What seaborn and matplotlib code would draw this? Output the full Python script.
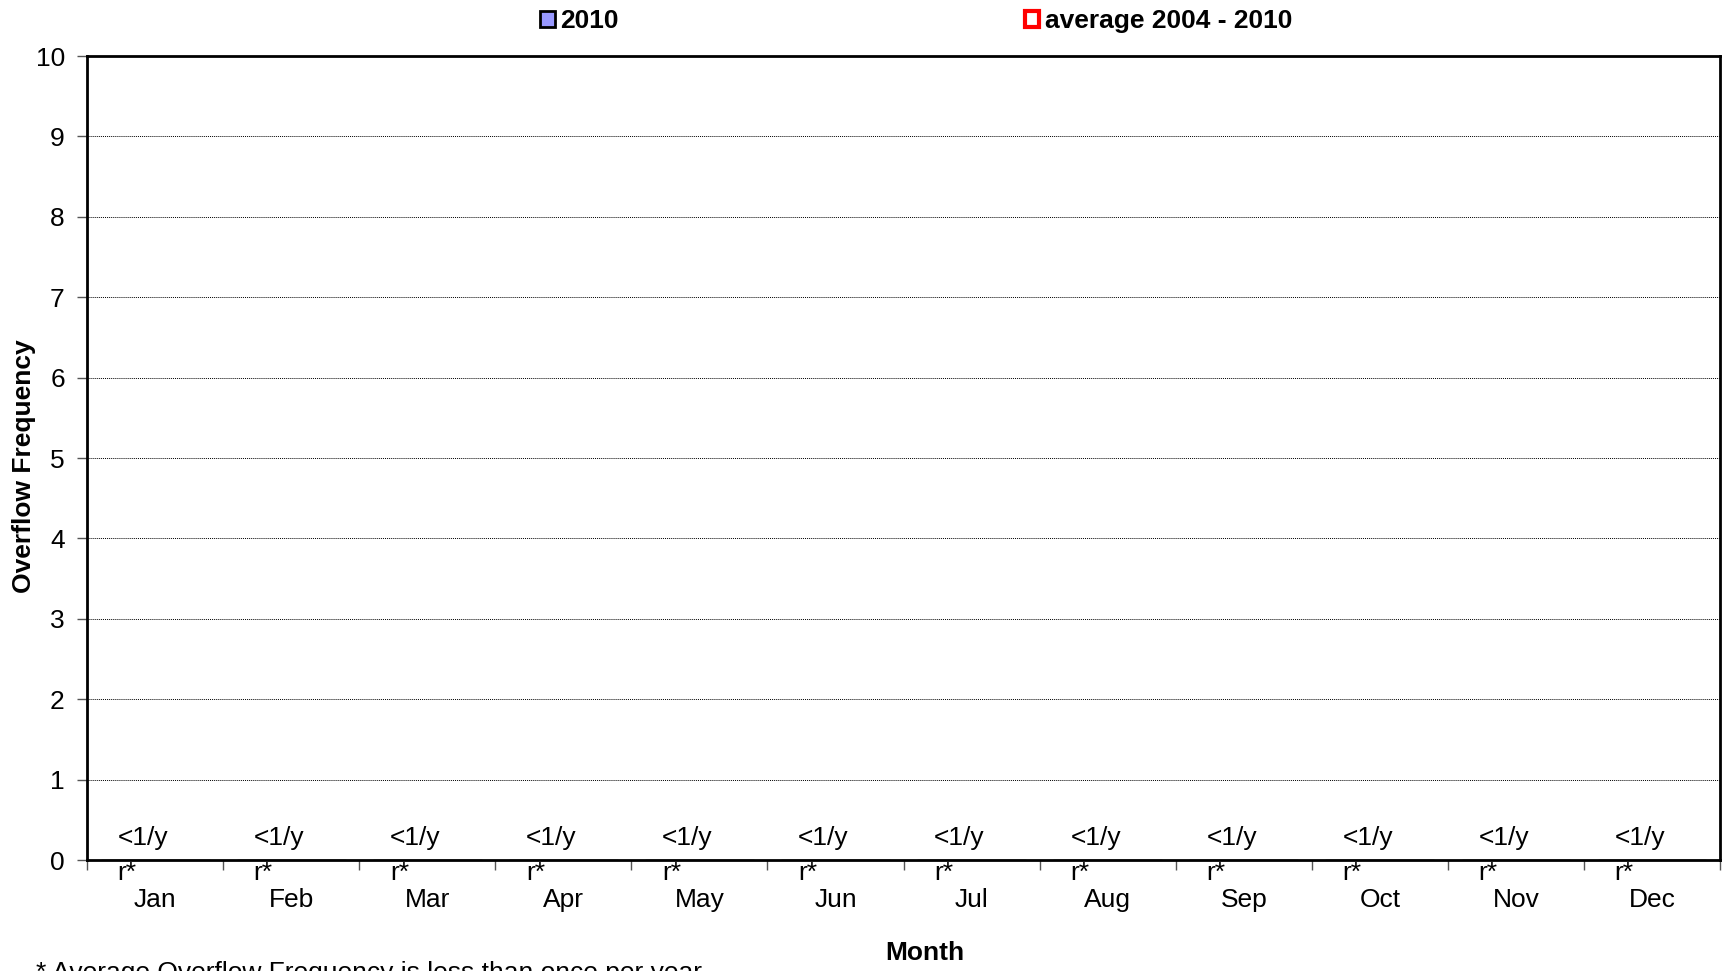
import numpy as np
import pandas as pd
import matplotlib
matplotlib.use('Agg')
import matplotlib.pyplot as plt
from matplotlib.patches import Patch
import seaborn as sns

months = ['Jan', 'Feb', 'Mar', 'Apr', 'May', 'Jun',
          'Jul', 'Aug', 'Sep', 'Oct', 'Nov', 'Dec']
freq_2010 = [0, 0, 0, 0, 0, 0, 0, 0, 0, 0, 0, 0]
freq_avg = [0, 0, 0, 0, 0, 0, 0, 0, 0, 0, 0, 0]
avg_labels = ['<1/y'] * 12
series_names = ['2010', 'average 2004 - 2010']
y_ticks = [0, 1, 2, 3, 4, 5, 6, 7, 8, 9, 10]


def main():
    sns.set_style('white')
    plt.rcParams['font.family'] = ['Liberation Sans', 'DejaVu Sans']
    plt.rcParams['text.color'] = 'black'
    plt.rcParams['axes.labelcolor'] = 'black'
    plt.rcParams['xtick.color'] = 'black'
    plt.rcParams['ytick.color'] = 'black'

    df = pd.DataFrame({
        'Month': months * 2,
        'Frequency': freq_2010 + freq_avg,
        'Series': [series_names[0]] * 12 + [series_names[1]] * 12,
    })

    fig = plt.figure(figsize=(17.27, 9.71), dpi=100)
    ax = fig.add_axes([0.0504, 0.1143, 0.9456, 0.828])

    sns.barplot(data=df, x='Month', y='Frequency', hue='Series', order=months,
                palette=['#9999FF', 'white'], edgecolor='black', linewidth=1,
                width=0.8, ax=ax, legend=False)

    fs = 19
    ax.set_ylim(0, 10)
    ax.set_xlim(-0.5, len(months) - 0.5)
    ax.set_yticks(y_ticks)
    ax.set_yticklabels([str(t) for t in y_ticks], fontsize=fs)
    for t in y_ticks[1:-1]:
        ax.axhline(t, color='black', linestyle=(0, (1, 1)), linewidth=0.7, zorder=0)

    # ticks at category borders, labels at centres
    ax.set_xticks(np.arange(len(months) + 1) - 0.5)
    ax.set_xticklabels([])
    ax.set_xticks(np.arange(len(months)), minor=True)
    ax.set_xticklabels(months, minor=True, fontsize=fs)
    ax.tick_params(axis='x', which='major', direction='out', length=7, width=1,
                   color='#555555', bottom=True)
    ax.tick_params(axis='x', which='minor', length=0, pad=20)
    ax.tick_params(axis='y', direction='out', length=7, width=1,
                   color='#555555', left=True, pad=9)

    for s in ax.spines.values():
        s.set_color('black')
        s.set_linewidth(2)
        s.set_visible(True)

    for i, lab in enumerate(avg_labels):
        ax.annotate(lab, xy=(i - 0.275, 0), xytext=(0, 7), textcoords='offset points',
                    ha='left', va='bottom', fontsize=fs)
        ax.annotate('r*', xy=(i - 0.275, 0), xytext=(0, -1), textcoords='offset points',
                    ha='left', va='top', fontsize=fs)

    ax.set_xlabel('Month', fontsize=fs, fontweight='bold')
    ax.xaxis.set_label_coords(0.513, -0.1157)
    ax.xaxis.label.set_va('center')
    ax.set_ylabel('Overflow Frequency', fontsize=fs, fontweight='bold')
    ax.yaxis.set_label_coords(-0.0386, 0.49)
    ax.yaxis.label.set_va('center')

    handles = [Patch(facecolor='#9999FF', edgecolor='black', linewidth=2),
               Patch(facecolor='white', edgecolor='red', linewidth=3)]
    fig.legend(handles, series_names, loc='upper left',
               bbox_to_anchor=(0.299, 1.015), ncol=2, frameon=False,
               handlelength=0.55, handleheight=0.55, handletextpad=0.2,
               columnspacing=15.4, prop={'weight': 'bold', 'size': fs})

    fig.text(0.021, 1 - 961 / 971, '* Average Overflow Frequency is less than once per year',
             fontsize=fs, va='top', ha='left')

    fig.savefig('out.png', dpi=100)
    plt.close(fig)


if __name__ == '__main__':
    main()
